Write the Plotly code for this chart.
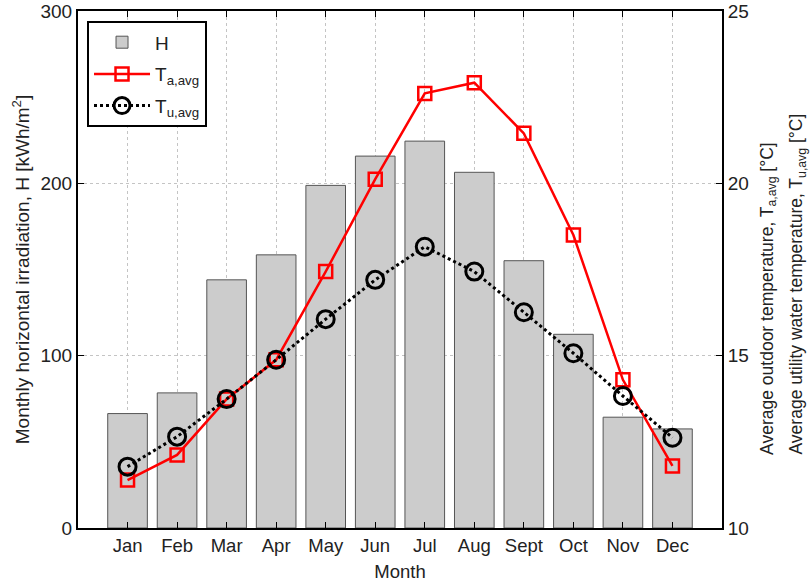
import plotly.graph_objects as go

months = ["Jan", "Feb", "Mar", "Apr", "May", "Jun", "Jul", "Aug", "Sept", "Oct", "Nov", "Dec"]
month_pos = [1, 2, 3, 4, 5, 6, 7, 8, 9, 10, 11, 12]
H = [66.4, 78.4, 144, 158.5, 198.8, 215.8, 224.5, 206.4, 155.1, 112.4, 64.3, 57.5]
T_a = [11.39, 12.12, 13.74, 14.88, 17.44, 20.12, 22.61, 22.92, 21.45, 18.5, 14.3, 11.8]
T_u = [11.78, 12.65, 13.74, 14.88, 16.06, 17.2, 18.16, 17.44, 16.26, 15.07, 13.83, 12.62]
right_titles = [
    "Average outdoor temperature, T<sub>a,avg</sub> [°C]",
    "Average utility water temperature, T<sub>u,avg</sub> [°C]",
]

font_family = "Liberation Sans, Arial, sans-serif"
txt_color = "#222222"

fig = go.Figure()
fig.add_trace(go.Bar(
    x=month_pos, y=H, name="H", width=0.8, legendgroup="a",
    marker=dict(color="#cccccc", line=dict(color="#555555", width=1)),
    yaxis="y",
))
fig.add_trace(go.Scatter(
    x=month_pos, y=T_a, name="T<sub>a,avg</sub>", mode="lines+markers", legendgroup="b",
    line=dict(color="#ff0000", width=2.5),
    marker=dict(symbol="square-open", size=13, color="#ff0000", line=dict(width=2.5, color="#ff0000")),
    yaxis="y2",
))
fig.add_trace(go.Scatter(
    x=month_pos, y=T_u, name="T<sub>u,avg</sub>", mode="lines+markers", legendgroup="c",
    line=dict(color="#000000", width=3, dash="dot"),
    marker=dict(symbol="circle-open", size=17, color="#000000", line=dict(width=3, color="#000000")),
    yaxis="y2",
))

grid_style = dict(showgrid=True, gridcolor="#c4c4c4", griddash="3px,3px", gridwidth=1)

fig.update_layout(
    width=811, height=587,
    margin=dict(l=78, r=89, t=11, b=59),
    paper_bgcolor="white", plot_bgcolor="white",
    font=dict(family=font_family, size=18.5, color=txt_color),
    showlegend=True,
    legend=dict(
        x=0.014, y=0.98, xanchor="left", yanchor="top",
        bgcolor="white", bordercolor="black", borderwidth=2,
        font=dict(size=19, color=txt_color), itemwidth=56,
        traceorder="grouped", tracegroupgap=4,
    ),
    xaxis=dict(
        range=[0, 13], tickmode="array", tickvals=month_pos, ticktext=months,
        ticks="inside", ticklen=6, tickcolor="black", tickwidth=1,
        showline=True, linecolor="black", linewidth=2, mirror="ticks",
        zeroline=False, automargin=False, **grid_style,
        title=dict(text="Month", standoff=10, font=dict(size=18.5)),
        tickfont=dict(size=18.5),
    ),
    yaxis=dict(
        range=[0, 300], tickvals=[0, 100, 200, 300],
        ticks="inside", ticklen=6, tickcolor="black", tickwidth=1,
        showline=True, linecolor="black", linewidth=2,
        zeroline=False, automargin=False, ticklabeloverflow="allow", **grid_style,
        title=dict(text="Monthly horizontal irradiation, H [kWh/m<sup>2</sup>]", standoff=6, font=dict(size=19)),
        tickfont=dict(size=19),
    ),
    yaxis2=dict(
        range=[10, 25], tickvals=[10, 15, 20, 25],
        overlaying="y", side="right",
        ticks="inside", ticklen=6, tickcolor="black", tickwidth=1,
        showline=True, linecolor="black", linewidth=2,
        showgrid=False, zeroline=False, automargin=False, ticklabeloverflow="allow",
        tickfont=dict(size=19),
    ),
    bargap=0.2,
)

for txt, xpos in zip(right_titles, [1.071, 1.117]):
    fig.add_annotation(
        text=txt, xref="paper", yref="paper", x=xpos, y=0.138,
        xanchor="center", yanchor="bottom",
        textangle=-90, showarrow=False,
        font=dict(size=17.5, color=txt_color, family=font_family),
    )

# remove the browser's default 8px body margin so the figure fills the window
fig.write_html("out.html", config={"displayModeBar": False},
               post_script="document.body.style.margin='0px';")
